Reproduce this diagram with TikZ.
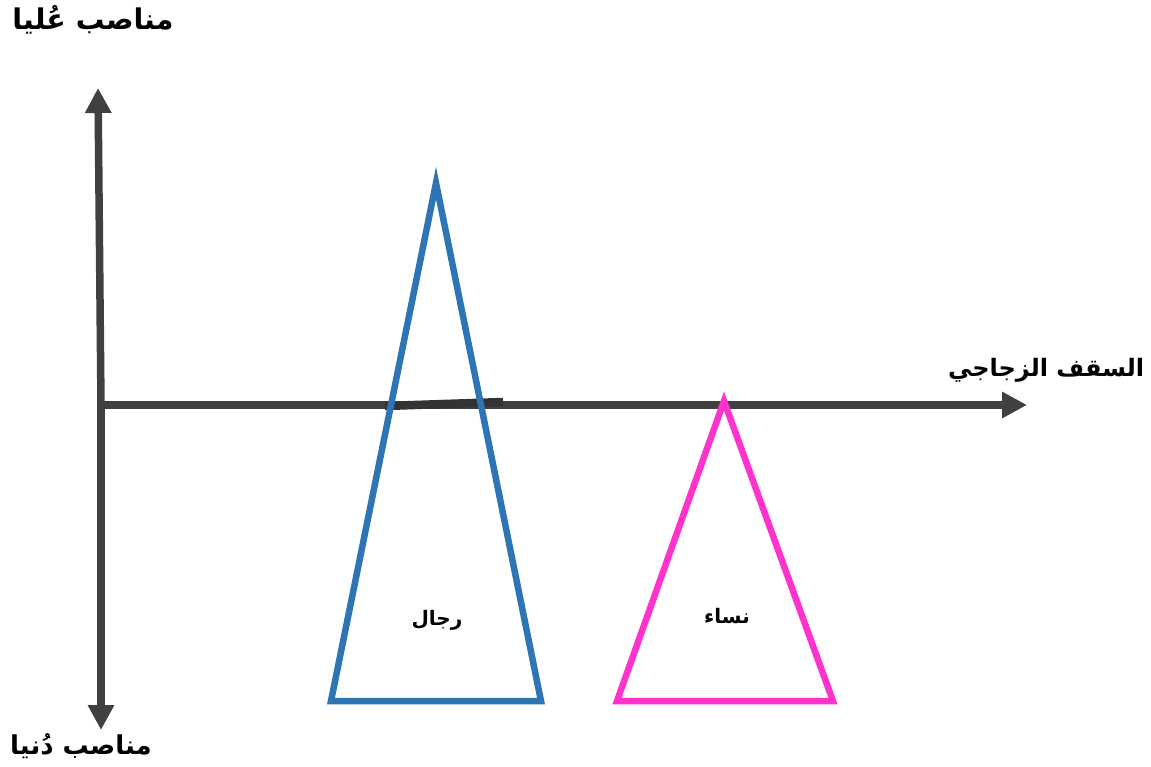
\documentclass[tikz,border=0pt]{standalone}
\usepackage{fontspec}
\usetikzlibrary{arrows.meta}
\newfontfamily\arabicfont[Script=Arabic]{DejaVu Sans}
\TeXXeTstate=1
\definecolor{axisgray}{HTML}{404040}
\definecolor{segdark}{HTML}{333333}
\definecolor{menblue}{HTML}{2E75B6}
\definecolor{womenpink}{HTML}{FF33CC}
\tikzset{
  axis/.style={draw=axisgray, line width=7.5pt, -{Triangle[width=25pt,length=25pt]}},
  tri/.style={line width=6.5pt, line join=miter},
  biglabel/.style={font=\arabicfont\bfseries\fontsize{26}{30}\selectfont, text=black, inner sep=0pt},
  smalllabel/.style={font=\arabicfont\bfseries\fontsize{20}{24}\selectfont, text=black, inner sep=0pt}
}
\begin{document}
\begin{tikzpicture}[x=1pt,y=-1pt]
\useasboundingbox (0,0) rectangle (1151,767);
\coordinate (o) at (101,405);
\coordinate (top) at (98,88);
\coordinate (bot) at (101,730);
\coordinate (right) at (1027,405);
\draw[axis] (o) -- (top);
\draw[axis] (o) -- (bot);
\draw[axis] (o) -- (right);
\coordinate (s1) at (385,406);
\coordinate (s2) at (503,402);
\draw[segdark, line width=8.5pt] (s1) -- (s2);
\coordinate (m1) at (436,183);
\coordinate (m2) at (331,701);
\coordinate (m3) at (541,701);
\draw[tri, menblue] (m1) -- (m2) -- (m3) -- cycle;
\coordinate (w1) at (724,401);
\coordinate (w2) at (617,701);
\coordinate (w3) at (833,701);
\draw[tri, womenpink] (w1) -- (w2) -- (w3) -- cycle;
\node[biglabel, font=\arabicfont\bfseries\fontsize{28.5}{32}\selectfont] (hi) at (93,20) {\beginR مناصب عُليا\endR};
\node[biglabel] (lo) at (81,746) {\beginR مناصب دُنيا\endR};
\node[biglabel, font=\arabicfont\bfseries\fontsize{24}{28}\selectfont] (gc) at (1046,370) {\beginR السقف الزجاجي\endR};
\node[smalllabel] (men) at (437,620) {\beginR رجال\endR};
\node[smalllabel] (women) at (727,616) {\beginR نساء\endR};
\end{tikzpicture}
\end{document}
